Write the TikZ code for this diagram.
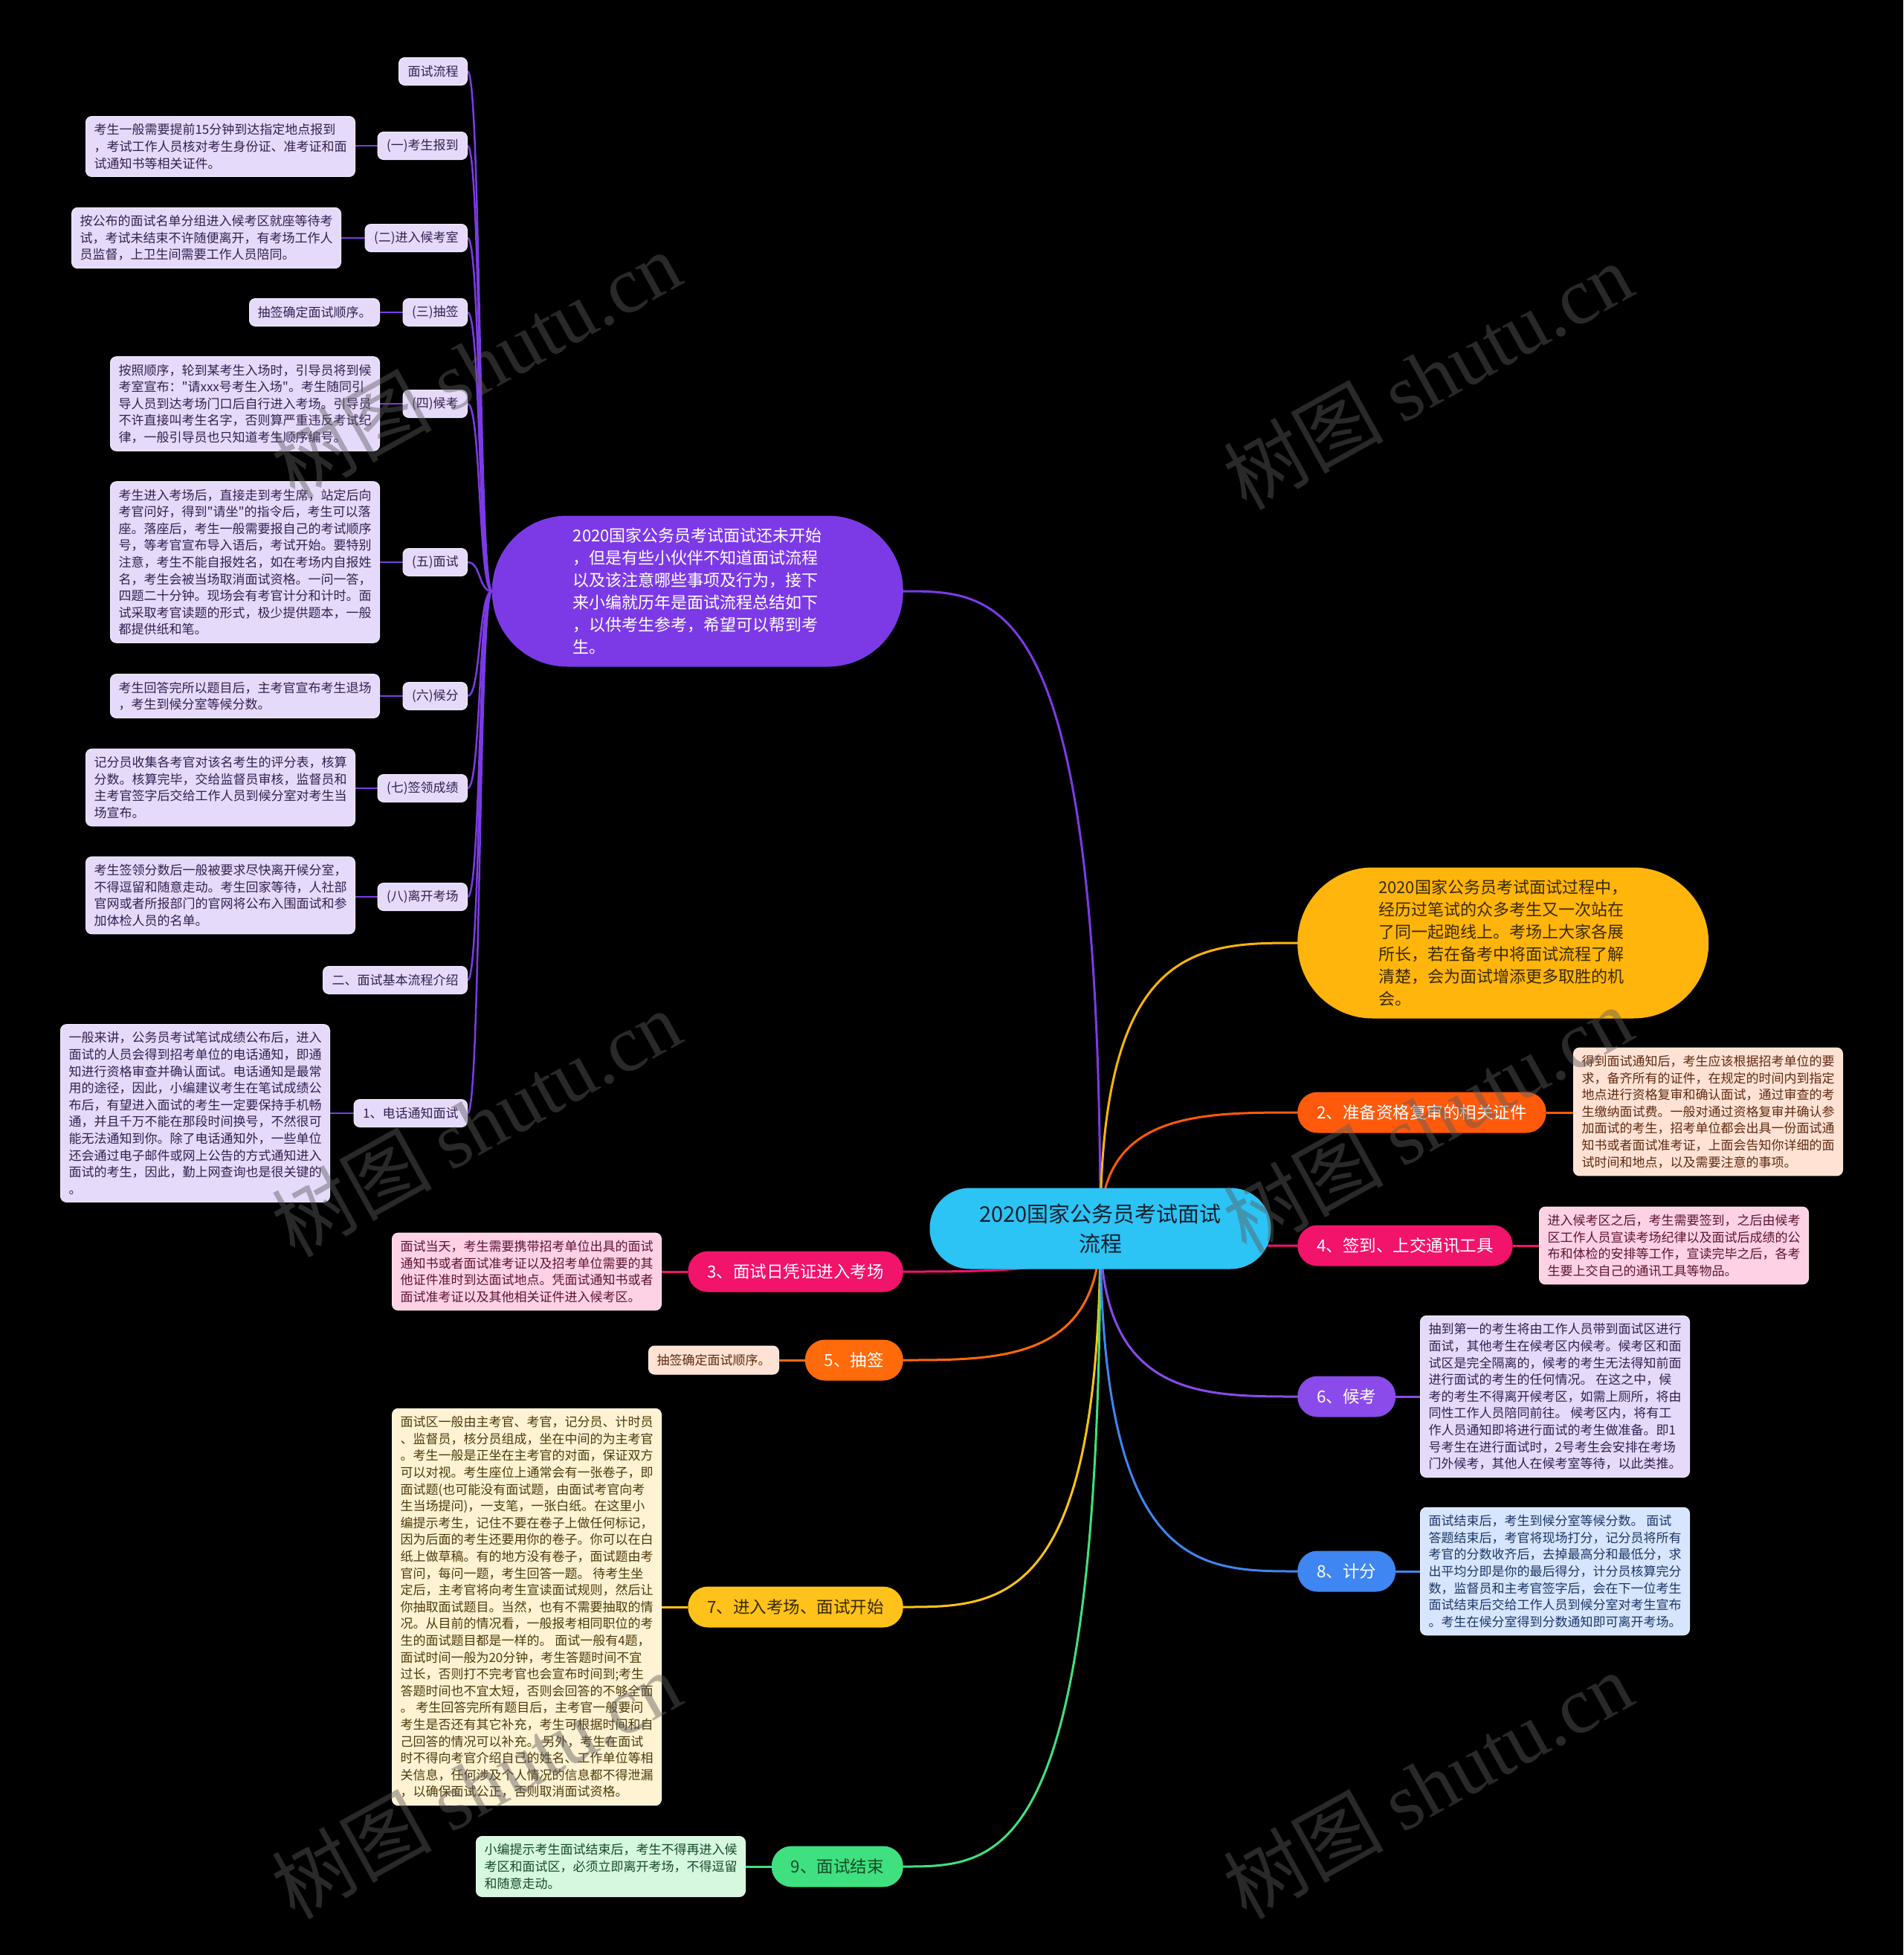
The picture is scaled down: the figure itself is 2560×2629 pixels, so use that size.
\documentclass[tikz,border=0pt]{standalone}
\usepackage{fontspec}
\setmainfont{Noto Sans CJK SC}[Ligatures=TeXOff]
\newfontfamily\wmserif{Liberation Serif}
\usetikzlibrary{calc}
\definecolor{rootc}{HTML}{2CC3F5}
\definecolor{roottxt}{HTML}{14202C}
\definecolor{purp}{HTML}{7C3AE6}
\definecolor{yel}{HTML}{FFB50C}
\definecolor{yeltxt}{HTML}{3A2A00}
\definecolor{ora}{HTML}{FF5A0C}
\definecolor{pnk}{HTML}{F2136A}
\definecolor{vio}{HTML}{8B4AEA}
\definecolor{blu}{HTML}{3F86F2}
\definecolor{ora2}{HTML}{FF6A0A}
\definecolor{yel2}{HTML}{FFC21A}
\definecolor{grn}{HTML}{3FE07F}
\definecolor{lav}{HTML}{E6DAFB}
\definecolor{lavb}{HTML}{F1EAFE}
\definecolor{lavtxt}{HTML}{33204F}
\definecolor{peach}{HTML}{FFE2D4}
\definecolor{peachtxt}{HTML}{5E2A12}
\definecolor{pinkb}{HTML}{FFD1E4}
\definecolor{pinktxt}{HTML}{5B1434}
\definecolor{lblue}{HTML}{D7E5FE}
\definecolor{bluetxt}{HTML}{1C3766}
\definecolor{cream}{HTML}{FFF3D3}
\definecolor{creamtxt}{HTML}{4D3A0C}
\definecolor{lgrn}{HTML}{D5F8DF}
\definecolor{grntxt}{HTML}{174A2A}
\definecolor{wmgray}{HTML}{5C5C5C}
\pgfdeclarelayer{back}
\pgfdeclarelayer{lines}
\pgfdeclarelayer{front}
\pgfsetlayers{back,lines,main,front}
\tikzset{
  lab/.style={fill=lav, draw=lavb, line width=1pt, rounded corners=8pt, text=lavtxt,
    font=\fontsize{17}{21}\selectfont, inner xsep=12pt, inner ysep=0pt, minimum height=37pt, anchor=east},
  note/.style={rounded corners=8pt, align=left, font=\fontsize{17}{22.6}\selectfont,
    inner xsep=11pt, inner ysep=10pt, line width=1pt},
  pill/.style={rounded corners=27pt, minimum height=55pt, inner xsep=26pt, inner ysep=0pt,
    font=\fontsize{22.5}{27}\selectfont, text=white},
  bignode/.style={rounded corners=101pt, minimum width=553pt, minimum height=203pt,
    align=left, font=\fontsize{22}{30}\selectfont},
  brline/.style={line width=3pt},
  subline/.style={line width=2.5pt, purp},
  wm/.style={text=wmgray, opacity=0.45, rotate=29, font=\fontsize{108}{110}\selectfont}
}
\begin{document}
\begin{tikzpicture}[x=1pt,y=-1pt]
\useasboundingbox (0,0) rectangle (2560,2629);
\begin{pgfonlayer}{back}
\fill[black] (0,0) rectangle (2560,2629);
\end{pgfonlayer}

% root
\node[fill=rootc, text=roottxt, rounded corners=54pt, minimum width=459pt, minimum height=109pt,
  align=center, font=\fontsize{29}{40}\selectfont] (root) at (1480,1652) {2020国家公务员考试面试\\流程};

% big intro nodes
\node[bignode, fill=purp, text=white, anchor=east] (intro) at (1215,795) {2020国家公务员考试面试还未开始\\，但是有些小伙伴不知道面试流程\\以及该注意哪些事项及行为，接下\\来小编就历年是面试流程总结如下\\，以供考生参考，希望可以帮到考\\生。};
\node[bignode, fill=yel, text=yeltxt, anchor=west] (yn) at (1745,1268) {2020国家公务员考试面试过程中，\\经历过笔试的众多考生又一次站在\\了同一起跑线上。考场上大家各展\\所长，若在备考中将面试流程了解\\清楚，会为面试增添更多取胜的机\\会。};

% left column labels
\node[lab] (c0) at (629,96) {面试流程};
\node[lab] (c1) at (629,196) {(一)考生报到};
\node[lab] (c2) at (629,320) {(二)进入候考室};
\node[lab] (c3) at (629,420) {(三)抽签};
\node[lab] (c4) at (629,543) {(四)候考};
\node[lab] (c5) at (629,756) {(五)面试};
\node[lab] (c6) at (629,936) {(六)候分};
\node[lab] (c7) at (629,1060) {(七)签领成绩};
\node[lab] (c8) at (629,1206) {(八)离开考场};
\node[lab] (c9) at (629,1318) {二、面试基本流程介绍};
\node[lab] (c10) at (629,1497) {1、电话通知面试};

% left column notes
\node[note, fill=lav, draw=lavb, text=lavtxt, anchor=east] (t1) at (478,197) {考生一般需要提前15分钟到达指定地点报到\\，考试工作人员核对考生身份证、准考证和面\\试通知书等相关证件。};
\node[note, fill=lav, draw=lavb, text=lavtxt, anchor=east] (t2) at (459,320) {按公布的面试名单分组进入候考区就座等待考\\试，考试未结束不许随便离开，有考场工作人\\员监督，上卫生间需要工作人员陪同。};
\node[note, fill=lav, draw=lavb, text=lavtxt, anchor=east, inner ysep=0pt, minimum height=37pt] (t3) at (511,420) {抽签确定面试顺序。};
\node[note, fill=lav, draw=lavb, text=lavtxt, anchor=east] (t4) at (511,543) {按照顺序，轮到某考生入场时，引导员将到候\\考室宣布："请xxx号考生入场"。考生随同引\\导人员到达考场门口后自行进入考场。引导员\\不许直接叫考生名字，否则算严重违反考试纪\\律，一般引导员也只知道考生顺序编号。};
\node[note, fill=lav, draw=lavb, text=lavtxt, anchor=east] (t5) at (511,756) {考生进入考场后，直接走到考生席，站定后向\\考官问好，得到"请坐"的指令后，考生可以落\\座。落座后，考生一般需要报自己的考试顺序\\号，等考官宣布导入语后，考试开始。要特别\\注意，考生不能自报姓名，如在考场内自报姓\\名，考生会被当场取消面试资格。一问一答，\\四题二十分钟。现场会有考官计分和计时。面\\试采取考官读题的形式，极少提供题本，一般\\都提供纸和笔。};
\node[note, fill=lav, draw=lavb, text=lavtxt, anchor=east] (t6) at (511,936) {考生回答完所以题目后，主考官宣布考生退场\\，考生到候分室等候分数。};
\node[note, fill=lav, draw=lavb, text=lavtxt, anchor=east] (t7) at (478,1059) {记分员收集各考官对该名考生的评分表，核算\\分数。核算完毕，交给监督员审核，监督员和\\主考官签字后交给工作人员到候分室对考生当\\场宣布。};
\node[note, fill=lav, draw=lavb, text=lavtxt, anchor=east] (t8) at (478,1204) {考生签领分数后一般被要求尽快离开候分室，\\不得逗留和随意走动。考生回家等待，人社部\\官网或者所报部门的官网将公布入围面试和参\\加体检人员的名单。};
\node[note, fill=lav, draw=lavb, text=lavtxt, anchor=east] (t10) at (444,1497) {一般来讲，公务员考试笔试成绩公布后，进入\\面试的人员会得到招考单位的电话通知，即通\\知进行资格审查并确认面试。电话通知是最常\\用的途径，因此，小编建议考生在笔试成绩公\\布后，有望进入面试的考生一定要保持手机畅\\通，并且千万不能在那段时间换号，不然很可\\能无法通知到你。除了电话通知外，一些单位\\还会通过电子邮件或网上公告的方式通知进入\\面试的考生，因此，勤上网查询也是很关键的\\。};

% right branches
\node[pill, fill=ora, anchor=west] (p2) at (1745,1496) {2、准备资格复审的相关证件};
\node[pill, fill=pnk, anchor=west] (p4) at (1745,1675) {4、签到、上交通讯工具};
\node[pill, fill=vio, anchor=west] (p6) at (1745,1878) {6、候考};
\node[pill, fill=blu, anchor=west] (p8) at (1745,2113) {8、计分};

\node[note, fill=peach, draw=peach!60!white, text=peachtxt, anchor=west] (n2) at (2116,1495) {得到面试通知后，考生应该根据招考单位的要\\求，备齐所有的证件，在规定的时间内到指定\\地点进行资格复审和确认面试，通过审查的考\\生缴纳面试费。一般对通过资格复审并确认参\\加面试的考生，招考单位都会出具一份面试通\\知书或者面试准考证，上面会告知你详细的面\\试时间和地点，以及需要注意的事项。};
\node[note, fill=pinkb, draw=pinkb!60!white, text=pinktxt, anchor=west] (n4) at (2070,1675) {进入候考区之后，考生需要签到，之后由候考\\区工作人员宣读考场纪律以及面试后成绩的公\\布和体检的安排等工作，宣读完毕之后，各考\\生要上交自己的通讯工具等物品。};
\node[note, fill=lav, draw=lavb, text=lavtxt, anchor=west] (n6) at (1910,1878) {抽到第一的考生将由工作人员带到面试区进行\\面试，其他考生在候考区内候考。候考区和面\\试区是完全隔离的，候考的考生无法得知前面\\进行面试的考生的任何情况。 在这之中，候\\考的考生不得离开候考区，如需上厕所，将由\\同性工作人员陪同前往。 候考区内，将有工\\作人员通知即将进行面试的考生做准备。即1\\号考生在进行面试时，2号考生会安排在考场\\门外候考，其他人在候考室等待，以此类推。};
\node[note, fill=lblue, draw=lblue!60!white, text=bluetxt, anchor=west] (n8) at (1910,2113) {面试结束后，考生到候分室等候分数。 面试\\答题结束后，考官将现场打分，记分员将所有\\考官的分数收齐后，去掉最高分和最低分，求\\出平均分即是你的最后得分，计分员核算完分\\数，监督员和主考官签字后，会在下一位考生\\面试结束后交给工作人员到候分室对考生宣布\\。考生在候分室得到分数通知即可离开考场。};

% left branches
\node[pill, fill=pnk, anchor=east] (p3) at (1215,1710) {3、面试日凭证进入考场};
\node[pill, fill=ora2, anchor=east] (p5) at (1215,1829) {5、抽签};
\node[pill, fill=yel2, text=yeltxt, anchor=east] (p7) at (1215,2161) {7、进入考场、面试开始};
\node[pill, fill=grn, text=grntxt, anchor=east] (p9) at (1215,2510) {9、面试结束};

\node[note, fill=pinkb, draw=pinkb!60!white, text=pinktxt, anchor=east] (n3) at (890,1710) {面试当天，考生需要携带招考单位出具的面试\\通知书或者面试准考证以及招考单位需要的其\\他证件准时到达面试地点。凭面试通知书或者\\面试准考证以及其他相关证件进入候考区。};
\node[note, fill=peach, draw=peach!60!white, text=peachtxt, anchor=east, inner ysep=0pt, minimum height=38pt] (n5) at (1048,1829) {抽签确定面试顺序。};
\node[note, fill=cream, draw=cream!60!white, text=creamtxt, anchor=east] (n7) at (890,2161) {面试区一般由主考官、考官，记分员、计时员\\、监督员，核分员组成，坐在中间的为主考官\\。考生一般是正坐在主考官的对面，保证双方\\可以对视。考生座位上通常会有一张卷子，即\\面试题(也可能没有面试题，由面试考官向考\\生当场提问)，一支笔，一张白纸。在这里小\\编提示考生，记住不要在卷子上做任何标记，\\因为后面的考生还要用你的卷子。你可以在白\\纸上做草稿。有的地方没有卷子，面试题由考\\官问，每问一题，考生回答一题。 待考生坐\\定后，主考官将向考生宣读面试规则，然后让\\你抽取面试题目。当然，也有不需要抽取的情\\况。从目前的情况看，一般报考相同职位的考\\生的面试题目都是一样的。 面试一般有4题，\\面试时间一般为20分钟，考生答题时间不宜\\过长，否则打不完考官也会宣布时间到;考生\\答题时间也不宜太短，否则会回答的不够全面\\。 考生回答完所有题目后，主考官一般要问\\考生是否还有其它补充，考生可根据时间和自\\己回答的情况可以补充。 另外，考生在面试\\时不得向考官介绍自己的姓名、工作单位等相\\关信息，任何涉及个人情况的信息都不得泄漏\\，以确保面试公正，否则取消面试资格。};
\node[note, fill=lgrn, draw=lgrn!60!white, text=grntxt, anchor=east] (n9) at (1003,2510) {小编提示考生面试结束后，考生不得再进入候\\考区和面试区，必须立即离开考场，不得逗留\\和随意走动。};

% connectors
\begin{pgfonlayer}{lines}
\foreach \n/\c in {intro/purp, p3/pnk, p5/ora2, p7/yel2, p9/grn}
  \draw[brline, \c] (root.center) .. controls (root.center |- \n.east) and ($(root.center |- \n.east)!0.5!(\n.east)$) .. (\n.east);
\foreach \n/\c in {yn/yel, p2/ora, p4/pnk, p6/vio, p8/blu}
  \draw[brline, \c] (root.center) .. controls (root.center |- \n.west) and ($(root.center |- \n.west)!0.5!(\n.west)$) .. (\n.west);
\foreach \n in {c0,c1,c2,c3,c4,c5,c6,c7,c8,c9,c10}
  \draw[subline] (intro.west) .. controls ($(intro.west)+(-18,0)$) and ($(\n.east)+(18,0)$) .. (\n.east);
\foreach \a/\b in {c1/t1, c2/t2, c3/t3, c4/t4, c5/t5, c6/t6, c7/t7, c8/t8, c10/t10}
  \draw[subline] (\a.west) -- (\a.west -| \b.east);
\draw[brline, ora] (p2.east) -- (p2.east -| n2.west);
\draw[brline, pnk] (p4.east) -- (p4.east -| n4.west);
\draw[brline, vio] (p6.east) -- (p6.east -| n6.west);
\draw[brline, blu] (p8.east) -- (p8.east -| n8.west);
\draw[brline, pnk] (p3.west) -- (p3.west -| n3.east);
\draw[brline, ora2] (p5.west) -- (p5.west -| n5.east);
\draw[brline, yel2] (p7.west) -- (p7.west -| n7.east);
\draw[brline, grn] (p9.west) -- (p9.west -| n9.east);
\end{pgfonlayer}

% watermarks
\begin{pgfonlayer}{front}
\foreach \i/\px/\py in {1/640/490, 2/1920/505, 3/640/1510, 4/1920/1505, 5/640/2400, 6/1920/2400}
  \node[wm] (wm\i) at (\px,\py) {树图 {\wmserif shutu.cn}};
\end{pgfonlayer}
\end{tikzpicture}
\end{document}
